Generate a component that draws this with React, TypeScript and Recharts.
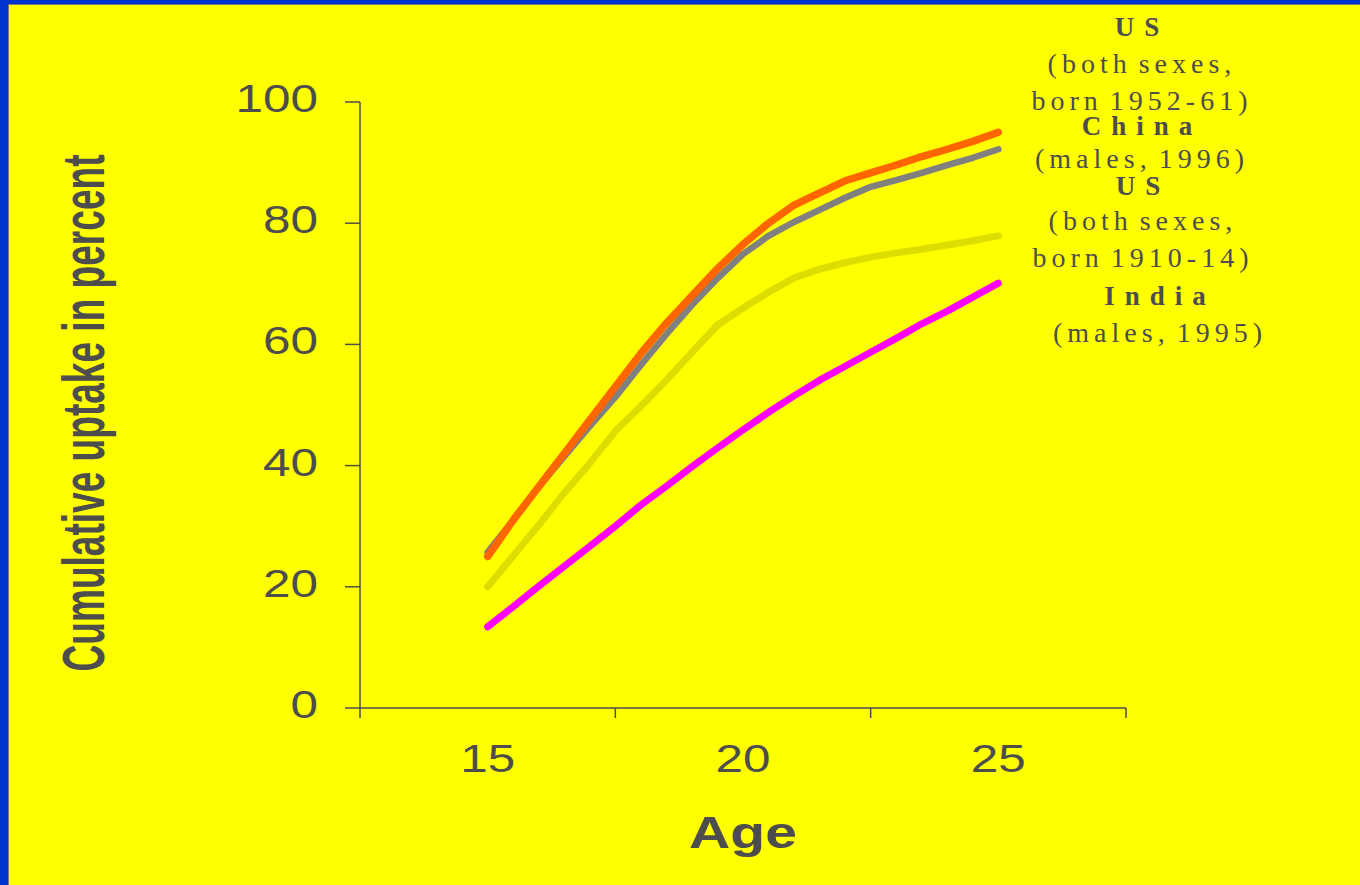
import { Legend, Line, LineChart, XAxis, YAxis } from "recharts";

// age in years, half-year steps
const ages = [
  15, 15.5, 16, 16.5, 17, 17.5, 18, 18.5, 19, 19.5, 20, 20.5, 21, 21.5, 22,
  22.5, 23, 23.5, 24, 24.5, 25,
];

// cumulative uptake, percent
const usBorn1952 = [
  25, 31, 36.5, 42, 47.5, 53, 58.5, 63.5, 68, 72.5, 76.5, 80, 83, 85, 87,
  88.3, 89.6, 91, 92.2, 93.5, 95,
];
const chinaMales1996 = [
  25.7, 31, 36.5, 41.5, 46.5, 51.3, 56.6, 61.7, 66.5, 70.9, 74.9, 77.9, 80.2,
  82.2, 84.2, 86, 87.1, 88.3, 89.6, 90.8, 92.2,
];
const usBorn1910 = [
  20, 25.1, 30.2, 35.5, 40.4, 45.7, 49.8, 54.1, 58.7, 63.2, 66, 68.6, 71, 72.4,
  73.5, 74.4, 75.1, 75.7, 76.4, 77.1, 77.9,
];
const indiaMales1995 = [
  13.4, 16.7, 20.1, 23.4, 26.7, 30, 33.5, 36.6, 39.8, 42.9, 45.9, 48.8, 51.5,
  54.1, 56.4, 58.7, 61, 63.4, 65.5, 67.8, 70.1,
];

const yTicks = [0, 20, 40, 60, 80, 100];
const xTickLabels = [15, 20, 25];
const xTickMarks = [12.5, 17.5, 22.5, 27.5];

const seriesNames = ["US", "China", "US", "India"];
const seriesNotes = [
  ["(both sexes,", "born 1952-61)"],
  ["(males, 1996)"],
  ["(both sexes,", "born 1910-14)"],
  ["(males, 1995)"],
];

const rows = ages.map((age, i) => ({
  age,
  us1952: usBorn1952[i],
  china: chinaMales1996[i],
  us1910: usBorn1910[i],
  india: indiaMales1995[i],
}));

const INK = "#4d4d4d";
const SANS = "'Liberation Sans', Arial, sans-serif";
const SERIF = "'Liberation Serif', 'Times New Roman', serif";

const YTick = ({ x, y, payload }: any) => (
  <g transform={`translate(${x},${y + 10})`}>
    <text
      transform="scale(1.3,1)"
      textAnchor="end"
      fill={INK}
      fontSize={38}
      fontFamily={SANS}
    >
      {payload.value}
    </text>
  </g>
);

// boundary marks between age groups, labels centred on the ages
const XTick = ({ x, y, payload }: any) => {
  if (xTickMarks.includes(payload.value)) {
    return (
      <line x1={x} x2={x} y1={y} y2={y + 10} stroke={INK} strokeWidth={1.5} />
    );
  }
  return (
    <g transform={`translate(${x},${y + 64})`}>
      <text
        transform="scale(1.3,1)"
        textAnchor="middle"
        fill={INK}
        fontSize={38}
        fontFamily={SANS}
      >
        {payload.value}
      </text>
    </g>
  );
};

const YTitle = ({ viewBox }: any) => (
  <text
    transform={`translate(${viewBox.x - 56},${
      viewBox.y + viewBox.height / 2 + 8
    }) rotate(-90) scale(1,1.3)`}
    textAnchor="middle"
    textLength={517}
    lengthAdjust="spacingAndGlyphs"
    fill={INK}
    fontSize={45}
    fontWeight="bold"
    fontFamily="'Liberation Sans Narrow', 'Liberation Sans', Arial, sans-serif"
  >
    Cumulative uptake in percent
  </text>
);

const XTitle = ({ viewBox }: any) => (
  <g transform={`translate(${viewBox.x + viewBox.width / 2},${viewBox.y + 140})`}>
    <text
      transform="scale(1.27,1)"
      textAnchor="middle"
      fill={INK}
      fontSize={45}
      fontWeight="bold"
      fontFamily={SANS}
    >
      Age
    </text>
  </g>
);

// label block to the right of the line ends
const baselines = [[36, 73, 110], [135, 168], [195, 230, 267], [305, 342]];
const centres = [142, 142, 143, 160];

const SeriesLabels = () => (
  <svg width={360} height={370}>
    {seriesNames.map((name, i) => (
      <g key={i}>
        <text
          x={centres[i]}
          y={baselines[i][0]}
          textAnchor="middle"
          fill={INK}
          fontSize={27}
          fontWeight="bold"
          letterSpacing={10}
          fontFamily={SERIF}
        >
          {name}
        </text>
        {seriesNotes[i].map((note, j) => (
          <text
            key={j}
            x={centres[i]}
            y={baselines[i][j + 1]}
            textAnchor="middle"
            fill={INK}
            fontSize={28}
            letterSpacing={5}
            wordSpacing={-5}
            fontFamily={SERIF}
          >
            {note}
          </text>
        ))}
      </g>
    ))}
  </svg>
);

export default function App() {
  return (
    <div
      style={{
        position: "fixed",
        left: 0,
        top: 0,
        width: 1360,
        height: 885,
        background: "#0033cc",
        overflow: "hidden",
      }}
    >
      <div
        style={{
          position: "absolute",
          left: 8,
          top: 4,
          width: 1360,
          height: 890,
          background: "#ffff00",
          borderLeft: "1px solid #777",
          borderTop: "1px solid #777",
        }}
      />
      <div style={{ position: "absolute", left: 0, top: 0 }}>
        <LineChart
          width={1360}
          height={885}
          data={rows}
          margin={{ top: 102, right: 234, bottom: 57, left: 160 }}
        >
          <XAxis
            dataKey="age"
            type="number"
            domain={[12.5, 27.5]}
            ticks={[...xTickMarks, ...xTickLabels].sort((a, b) => a - b)}
            interval={0}
            height={120}
            tickSize={0}
            tickMargin={0}
            tickLine={false}
            tick={<XTick />}
            axisLine={{ stroke: INK, strokeWidth: 1.5 }}
            label={{ value: "Age", content: <XTitle /> }}
          />
          <YAxis
            type="number"
            domain={[0, 100]}
            ticks={yTicks}
            width={200}
            tickSize={15}
            tickMargin={27}
            tickLine={{ stroke: INK, strokeWidth: 1.5 }}
            axisLine={{ stroke: INK, strokeWidth: 1.5 }}
            tick={<YTick />}
            label={{ value: "Cumulative uptake in percent", content: <YTitle /> }}
          />
          <Legend
            layout="horizontal"
            align="center"
            verticalAlign="middle"
            content={<SeriesLabels />}
            wrapperStyle={{ left: 1000, top: 0, width: 360, height: 370 }}
          />
          <Line
            dataKey="us1910"
            type="linear"
            stroke="#dddd00"
            strokeWidth={7}
            strokeLinecap="round"
            strokeLinejoin="round"
            dot={false}
            activeDot={false}
            isAnimationActive={false}
          />
          <Line
            dataKey="india"
            type="linear"
            stroke="#ff00ff"
            strokeWidth={7}
            strokeLinecap="round"
            strokeLinejoin="round"
            dot={false}
            activeDot={false}
            isAnimationActive={false}
          />
          <Line
            dataKey="china"
            type="linear"
            stroke="#808080"
            strokeWidth={6.5}
            strokeLinecap="round"
            strokeLinejoin="round"
            dot={false}
            activeDot={false}
            isAnimationActive={false}
          />
          <Line
            dataKey="us1952"
            type="linear"
            stroke="#ff6600"
            strokeWidth={7.5}
            strokeLinecap="round"
            strokeLinejoin="round"
            dot={false}
            activeDot={false}
            isAnimationActive={false}
          />
        </LineChart>
      </div>
    </div>
  );
}
